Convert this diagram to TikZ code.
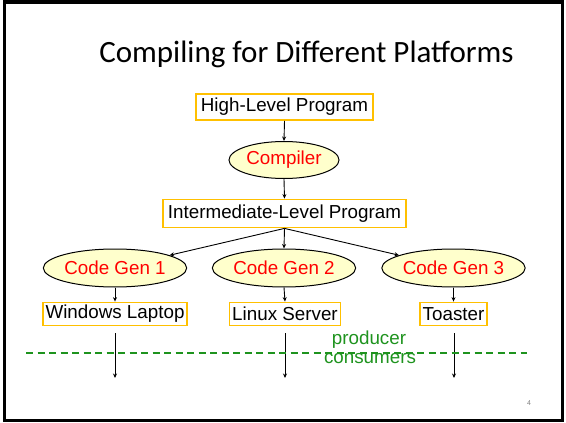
\documentclass[tikz,border=0pt]{standalone}
\usepackage{fontspec}
\setmainfont{Liberation Sans}
\newfontfamily\titlefont{Carlito}
\usetikzlibrary{shapes.geometric,arrows.meta}
\definecolor{boxgold}{HTML}{FFC000}
\definecolor{ovalfill}{HTML}{FFFFCC}
\definecolor{labelgreen}{HTML}{1E931E}
\begin{document}
\begin{tikzpicture}[x=1pt,y=-1pt,
  every node/.style={font=\fontsize{18.8}{20}\selectfont, inner sep=0pt},
  stagebox/.style={draw=boxgold, line width=1.8pt, rectangle, minimum height=26pt},
  stageoval/.style={draw=black, line width=1pt, fill=ovalfill, ellipse, text=red},
  flow/.style={draw=black, line width=0.9pt, -{Stealth[length=4.5pt,width=4pt]}}
]
\useasboundingbox (0,0) rectangle (566,423);
% slide frame
\draw[line width=3pt] (4.5,2) rectangle (562,420.5);

% title
\node[font=\titlefont\fontsize{31}{34}\selectfont, anchor=base] (title) at (306.5,63) {Compiling for Different Platforms};

% compile chain
\node[stagebox, minimum width=177pt] (hl) at (284.5,107) {High-Level Program};
\node[stageoval, minimum width=110pt, minimum height=37pt] (comp) at (284,160) {Compiler};
\node[stagebox, minimum width=243pt, minimum height=28pt] (mid) at (284.5,213.5) {Intermediate-Level Program};

% code generators
\node[stageoval, minimum width=127pt, minimum height=38pt] (cg1) at (115,268) {Code Gen 1};
\node[stageoval, minimum width=126pt, minimum height=38pt] (cg2) at (284,268) {Code Gen 2};
\node[stageoval, minimum width=127pt, minimum height=38pt] (cg3) at (453.5,268) {Code Gen 3};

% platforms
\node[stagebox, minimum width=144pt, minimum height=23pt] (win) at (115,314) {Windows Laptop};
\node[stagebox, minimum width=111pt, minimum height=23pt] (lin) at (285,314) {Linux Server};
\node[stagebox, minimum width=67pt, minimum height=23pt] (toa) at (453.5,314) {Toaster};

% connectors
\draw[flow] (hl.south) -- (comp.north);
\draw[flow] (comp.south) -- (mid.north);
\draw[flow] (mid.south) -- (cg1);
\draw[flow] (mid.south) -- (cg2.north);
\draw[flow] (mid.south) -- (cg3);
\draw[flow] (cg1.south) -- (win.north);
\draw[flow] (cg2.south) -- (lin.north);
\draw[flow] (cg3.south) -- (toa.north);

% outputs leaving each platform
\coordinate (w1) at (115,333);  \coordinate (w2) at (115,378);
\coordinate (l1) at (285,333);  \coordinate (l2) at (285,378);
\coordinate (t1) at (454,333);  \coordinate (t2) at (454,378);
\draw[flow] (w1) -- (w2);
\draw[flow] (l1) -- (l2);
\draw[flow] (t1) -- (t2);

% producer / consumer boundary
\coordinate (dl) at (26,353);
\coordinate (dr) at (527,353);
\draw[labelgreen, line width=1.1pt, dash pattern=on 7pt off 4.5pt] (dl) -- (dr);
\node[text=labelgreen] (prod) at (369,340) {producer};
\node[text=labelgreen] (cons) at (370,359) {consumers};

% page number
\node[font=\fontsize{7}{8}\selectfont, text=gray] (pg) at (529,403) {4};
\end{tikzpicture}
\end{document}
